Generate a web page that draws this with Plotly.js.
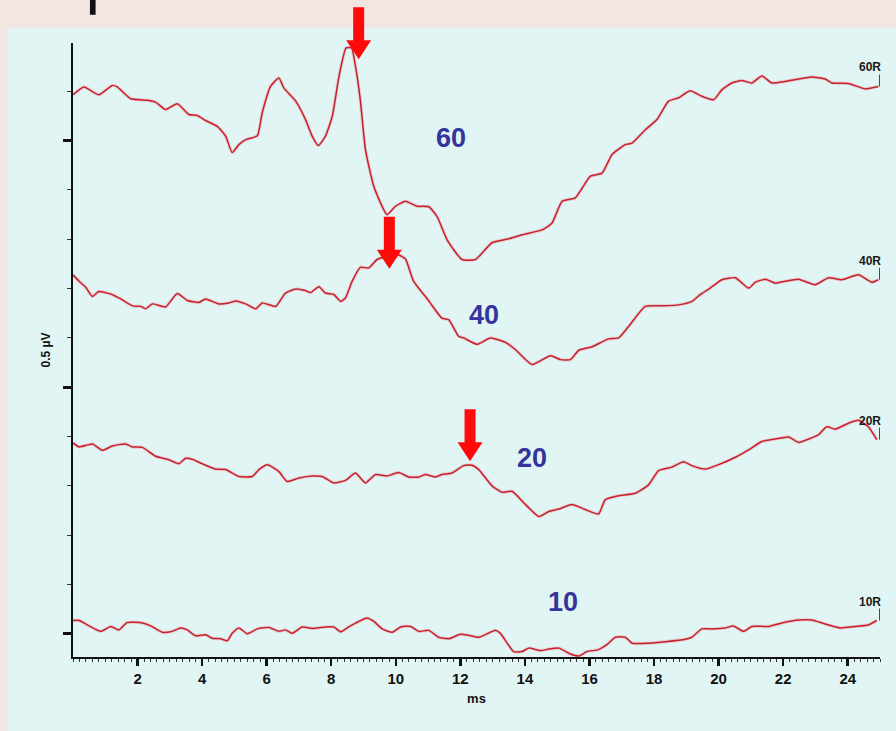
<!DOCTYPE html>
<html>
<head>
<meta charset="utf-8">
<script src="https://cdn.plot.ly/plotly-3.0.1.min.js"></script>
<style>
  html, body { margin: 0; padding: 0; background: #f1e6e2; }
  #chart { width: 896px; height: 731px; }
</style>
</head>
<body>
<div id="chart"></div>
<script>
// ---- Data (time in ms, amplitude in µV as plotted, traces stacked) ----
var t60 = [0,0.34,0.8,1.22,1.37,1.79,2.3,2.56,2.87,3.23,3.59,3.85,4.1,4.47,4.73,4.93,5.14,5.35,5.71,5.86,6.12,6.38,6.53,6.9,7.2,7.41,7.6,7.82,8.03,8.24,8.46,8.63,8.75,8.9,9.06,9.32,9.73,9.99,10.3,10.66,11.02,11.28,11.59,12.05,12.47,12.98,13.5,13.91,14.53,14.84,15.15,15.56,16.03,16.39,16.7,17.11,17.32,17.73,18.09,18.45,18.76,19.12,19.48,19.85,20.1,20.41,20.72,21.03,21.34,21.65,22.06,22.48,22.89,23.3,23.51,24.02,24.54,24.95];
var v60 = [1.093,1.109,1.093,1.112,1.109,1.085,1.082,1.078,1.063,1.075,1.053,1.051,1.041,1.029,1.009,0.976,0.992,1.002,1.010,1.056,1.110,1.127,1.107,1.080,1.043,1.009,0.990,1.009,1.049,1.130,1.188,1.188,1.151,1.083,0.982,0.907,0.850,0.867,0.877,0.867,0.866,0.846,0.799,0.759,0.759,0.793,0.801,0.809,0.819,0.833,0.877,0.884,0.928,0.934,0.972,0.992,0.995,1.022,1.043,1.080,1.087,1.101,1.090,1.083,1.103,1.117,1.122,1.117,1.131,1.117,1.120,1.125,1.129,1.125,1.117,1.116,1.105,1.110];

var t40 = [0,0.19,0.39,0.6,0.8,1.17,1.48,1.84,2.1,2.25,2.46,2.87,3.23,3.54,3.9,4.11,4.52,4.83,5.04,5.35,5.66,5.86,6.28,6.58,6.9,7.2,7.36,7.62,7.82,8.08,8.29,8.44,8.65,8.9,9.16,9.42,9.73,10.09,10.3,10.55,11.0,11.43,11.64,11.95,12.1,12.52,12.93,13.4,13.71,14.22,14.79,15.1,15.41,15.67,16.08,16.59,16.9,17.21,17.73,18.24,18.76,19.17,19.43,19.74,20.1,20.52,20.93,21.14,21.45,21.76,22.06,22.48,22.99,23.41,23.82,24.33,24.75,24.95];
var v40 = [0.728,0.715,0.703,0.684,0.694,0.689,0.679,0.665,0.664,0.659,0.669,0.663,0.690,0.676,0.672,0.679,0.669,0.671,0.675,0.669,0.659,0.671,0.664,0.691,0.699,0.696,0.692,0.704,0.691,0.688,0.674,0.681,0.715,0.743,0.742,0.759,0.765,0.768,0.760,0.715,0.677,0.640,0.637,0.603,0.600,0.587,0.600,0.591,0.576,0.546,0.564,0.556,0.556,0.575,0.582,0.598,0.600,0.623,0.664,0.665,0.667,0.674,0.688,0.701,0.718,0.722,0.701,0.713,0.719,0.711,0.715,0.719,0.708,0.722,0.718,0.728,0.713,0.718];

var t20 = [0,0.19,0.6,0.91,1.22,1.63,1.84,2.15,2.56,2.97,3.28,3.49,3.69,4.0,4.42,4.73,5.14,5.55,5.76,6.02,6.38,6.63,7.0,7.41,7.72,8.08,8.44,8.75,9.06,9.37,9.73,10.09,10.4,10.71,10.92,11.23,11.43,11.74,12.1,12.36,12.57,12.98,13.29,13.6,14.02,14.43,14.74,15.05,15.46,15.87,16.28,16.49,16.9,17.42,17.83,18.14,18.55,18.92,19.17,19.59,20.0,20.52,20.93,21.34,21.76,22.17,22.48,22.79,23.1,23.35,23.61,24.02,24.33,24.64,24.9];
var v20 = [0.387,0.379,0.385,0.372,0.381,0.385,0.379,0.378,0.360,0.353,0.345,0.356,0.354,0.345,0.334,0.333,0.319,0.319,0.333,0.343,0.329,0.309,0.316,0.320,0.319,0.306,0.311,0.326,0.306,0.323,0.320,0.327,0.318,0.318,0.323,0.318,0.323,0.326,0.341,0.342,0.333,0.300,0.287,0.289,0.262,0.238,0.248,0.253,0.262,0.252,0.243,0.272,0.280,0.285,0.302,0.331,0.338,0.349,0.341,0.334,0.343,0.358,0.373,0.390,0.395,0.399,0.388,0.395,0.404,0.420,0.415,0.427,0.433,0.420,0.394];

var t10 = [0,0.19,0.5,0.86,1.17,1.42,1.68,2.15,2.41,2.77,3.07,3.33,3.54,3.8,4.11,4.31,4.57,4.78,4.93,5.14,5.4,5.71,6.07,6.38,6.58,6.79,7.1,7.41,7.82,8.08,8.29,8.54,8.85,9.11,9.32,9.58,9.89,10.15,10.46,10.71,11.02,11.33,11.64,12.0,12.26,12.57,13.09,13.24,13.65,13.91,14.12,14.48,14.74,15.05,15.41,15.67,15.92,16.28,16.54,16.8,17.11,17.32,17.83,18.35,18.97,19.17,19.48,19.79,20.21,20.46,20.77,21.03,21.55,21.96,22.48,22.89,23.3,23.77,24.23,24.64,24.9];
var v10 = [0.027,0.027,0.016,0.005,0.015,0.008,0.023,0.022,0.016,0.003,0.005,0.012,0.008,-0.004,-0.002,-0.009,-0.010,-0.014,0.001,0.012,0.000,0.010,0.013,0.005,0.008,0.001,0.014,0.011,0.014,0.014,0.004,0.014,0.025,0.032,0.025,0.010,0.003,0.014,0.015,0.005,0.007,-0.007,-0.010,-0.001,-0.003,-0.007,0.007,0.001,-0.036,-0.036,-0.029,-0.034,-0.031,-0.029,-0.041,-0.045,-0.036,-0.032,-0.022,-0.007,-0.007,-0.019,-0.019,-0.016,-0.011,-0.007,0.010,0.010,0.012,0.016,0.005,0.015,0.015,0.022,0.028,0.028,0.020,0.012,0.015,0.018,0.027];

var levelNames = ['60', '40', '20', '10'];
var endLabels = ['60R', '40R', '20R', '10R'];
var xTickVals = [2,4,6,8,10,12,14,16,18,20,22,24];
var yScaleLabel = '0.5 µV';
var xAxisLabel = 'ms';

// Peak (wave V) markers: latency in ms and plotted amplitude
var peakMs = [8.85, 9.8, 12.3];
var peakUv = [1.165, 0.740, 0.350];

// Label positions for level numbers (ms, µV)
var levelLabelMs = [11.7, 12.73, 14.21, 15.17];
var levelLabelUv = [1.006, 0.647, 0.357, 0.065];

// ---- Build ----
var yRange = [-0.047, 1.198];
var times = [t60, t40, t20, t10];
var vals = [v60, v40, v20, v10];
var traceColor = '#c8202e';
var narrow = 'Liberation Sans Narrow, Liberation Sans, Arial, sans-serif';
var sans = 'Liberation Sans, Arial, sans-serif';

function toPaperY(v) { return (v - yRange[0]) / (yRange[1] - yRange[0]); }

var data = [];
for (var i = 0; i < 4; i++) {
  data.push({
    x: times[i], y: vals[i], type: 'scatter', mode: 'lines',
    line: { color: 'rgba(230,120,120,0.30)', width: 3.4, shape: 'spline', smoothing: 0.5 },
    hoverinfo: 'skip', showlegend: false
  });
  data.push({
    x: times[i], y: vals[i], type: 'scatter', mode: 'lines',
    name: levelNames[i],
    line: { color: traceColor, width: 1.5, shape: 'spline', smoothing: 0.5 },
    showlegend: false
  });
}

var shapes = [
  // scanned page background
  { type: 'rect', xref: 'paper', yref: 'paper', x0: -0.0805, x1: 1.03, y0: -0.13, y1: 1.0244,
    fillcolor: '#e2f5f5', line: { width: 0 }, layer: 'below' },
  // fragment of the cut-off title
  { type: 'rect', xref: 'paper', yref: 'paper', x0: 0.021, x1: 0.028, y0: 1.046, y1: 1.075,
    fillcolor: '#111111', line: { width: 0 }, layer: 'above' }
];

// red arrows pointing at the peaks
for (var k = 0; k < peakMs.length; k++) {
  shapes.push({
    type: 'path', xref: 'x', yref: 'paper',
    xsizemode: 'pixel', ysizemode: 'pixel',
    xanchor: peakMs[k], yanchor: toPaperY(peakUv[k]),
    path: 'M 0 0 L -12.5 19 L -5.5 19 L -5.5 52 L 5.5 52 L 5.5 19 L 12.5 19 Z',
    fillcolor: '#ff0a0a', line: { width: 0 }, layer: 'above'
  });
}

var annotations = [];
for (var j = 0; j < 4; j++) {
  var tj = times[j], vj = vals[j];
  var lastY = vj[vj.length - 1];
  // end-of-trace bar
  shapes.push({
    type: 'line', xref: 'x', yref: 'paper',
    ysizemode: 'pixel', yanchor: toPaperY(lastY),
    x0: 25, x1: 25, y0: 0, y1: 12,
    line: { color: '#111', width: 1.5 }
  });
  annotations.push({
    x: 25, y: lastY, xref: 'x', yref: 'y',
    text: '<b>' + endLabels[j] + '</b>', showarrow: false,
    xanchor: 'right', yanchor: 'bottom', xshift: 3, yshift: 10,
    font: { family: sans, size: 12, color: '#1a1a1a' }
  });
  annotations.push({
    x: levelLabelMs[j], y: levelLabelUv[j], xref: 'x', yref: 'y',
    text: '<b>' + levelNames[j] + '</b>', showarrow: false,
    xanchor: 'center', yanchor: 'middle',
    font: { family: sans, size: 27, color: '#34349c' }
  });
}

var layout = {
  width: 896, height: 731,
  margin: { l: 73, r: 16, t: 43, b: 74, pad: 0 },
  paper_bgcolor: '#f1e6e2',
  plot_bgcolor: 'rgba(0,0,0,0)',
  showlegend: false,
  font: { family: narrow, color: '#111' },
  xaxis: {
    range: [0, 25], showgrid: false, zeroline: false,
    showline: true, linecolor: '#111', linewidth: 2,
    tickmode: 'array', tickvals: xTickVals,
    ticks: 'outside', ticklen: 7, tickwidth: 2.5, tickcolor: '#111',
    minor: { tick0: 0, dtick: 0.2, ticks: 'outside', ticklen: 3, tickwidth: 1, tickcolor: '#333' },
    tickfont: { size: 15, weight: 'bold', family: narrow },
    title: { text: xAxisLabel, standoff: 8,
      font: { size: 13, weight: 'bold', family: narrow } }
  },
  yaxis: {
    range: yRange, showgrid: false, zeroline: false,
    showline: true, linecolor: '#111', linewidth: 2,
    tick0: 0, dtick: 0.5, ticks: 'outside', ticklen: 8, tickwidth: 3, tickcolor: '#111',
    showticklabels: false,
    minor: { tick0: 0, dtick: 0.1, ticks: 'outside', ticklen: 4, tickwidth: 1, tickcolor: '#333' },
    title: { text: yScaleLabel, standoff: 10,
      font: { size: 12, weight: 'bold', family: sans } }
  },
  shapes: shapes,
  annotations: annotations
};

Plotly.newPlot('chart', data, layout, { staticPlot: true, displayModeBar: false });
</script>
</body>
</html>
